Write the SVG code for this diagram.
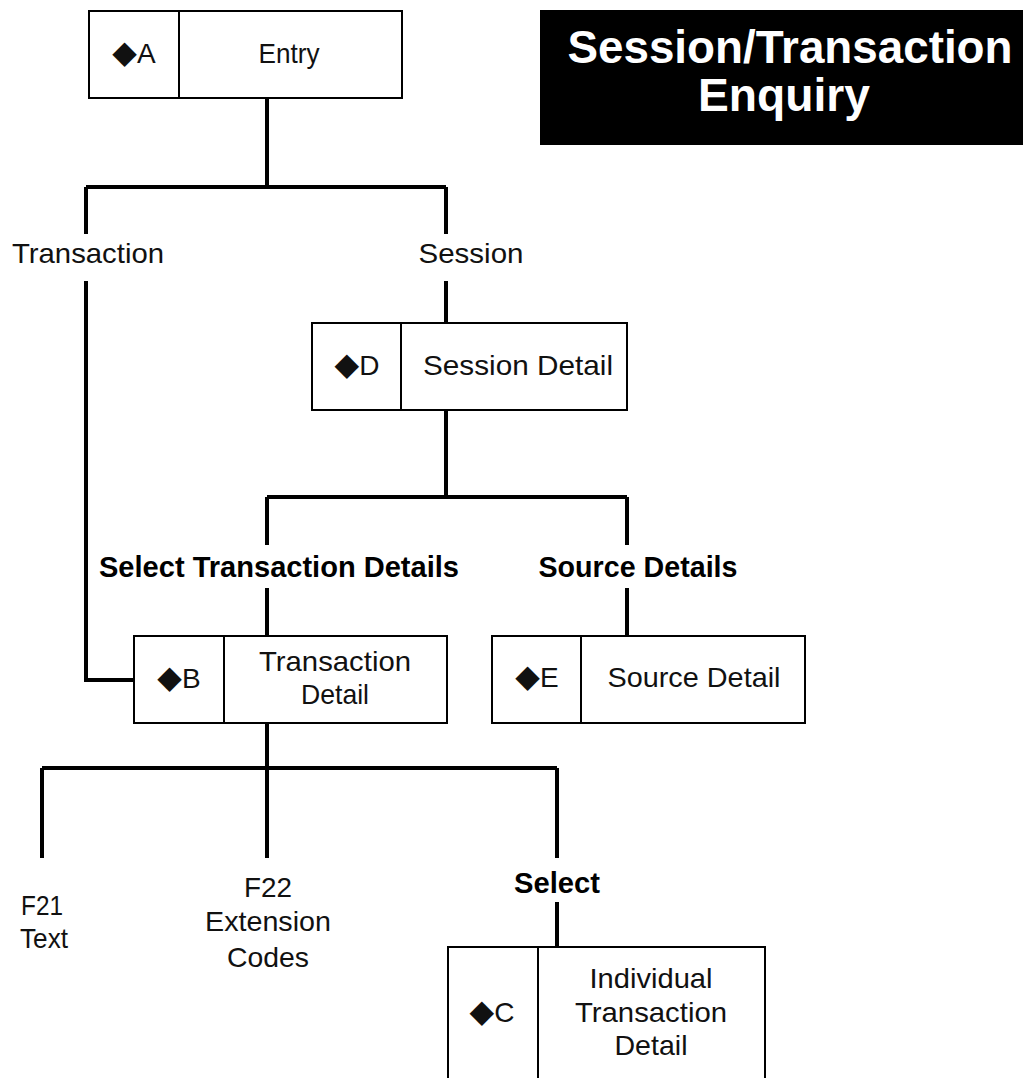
<svg xmlns="http://www.w3.org/2000/svg" width="1025" height="1078" viewBox="0 0 1025 1078">
  <style>
    .box { fill: #ffffff; stroke: #000000; stroke-width: 2; }
    .div { stroke: #000000; stroke-width: 2; }
    .wire { fill: none; stroke: #000000; stroke-width: 4; }
    .t { font-family: "Liberation Sans", Arial, sans-serif; font-size: 28px; fill: #111111; text-anchor: middle; }
    .b { font-family: "Liberation Sans", Arial, sans-serif; font-size: 29px; font-weight: bold; fill: #000000; text-anchor: middle; }
    .dm { font-family: "DejaVu Sans", sans-serif; font-size: 32px; }
    .title { font-family: "Liberation Sans", Arial, sans-serif; font-size: 46px; font-weight: bold; fill: #ffffff; text-anchor: middle; }
  </style>
  <rect width="1025" height="1078" fill="#ffffff"/>

  <!-- connectors -->
  <g id="connectors">
    <path class="wire" d="M267 98 V187 M86 187 H446 M86 187 V234 M446 187 V234"/>
    <path class="wire" d="M86 281 V680 H134"/>
    <path class="wire" d="M446 281 V323"/>
    <path class="wire" d="M446 410 V497 M267 497 H627 M267 497 V545 M627 497 V545"/>
    <path class="wire" d="M267 588 V636 M627 588 V636"/>
    <path class="wire" d="M267 723 V768 M42 768 H557 M42 768 V858 M267 768 V858 M557 768 V858"/>
    <path class="wire" d="M557 902 V947"/>
  </g>

  <!-- connector labels -->
  <g id="labels">
    <text class="t" x="88" y="263" textLength="152" lengthAdjust="spacingAndGlyphs">Transaction</text>
    <text class="t" x="471" y="263" textLength="105" lengthAdjust="spacingAndGlyphs">Session</text>
    <text class="b" x="279" y="577" textLength="360" lengthAdjust="spacingAndGlyphs">Select Transaction Details</text>
    <text class="b" x="638" y="577" textLength="199" lengthAdjust="spacingAndGlyphs">Source Details</text>
    <text class="t" x="42" y="915" textLength="42" lengthAdjust="spacingAndGlyphs">F21</text>
    <text class="t" x="44" y="948" textLength="48" lengthAdjust="spacingAndGlyphs">Text</text>
    <text class="t" x="268" y="897" textLength="48" lengthAdjust="spacingAndGlyphs">F22</text>
    <text class="t" x="268" y="931" textLength="126" lengthAdjust="spacingAndGlyphs">Extension</text>
    <text class="t" x="268" y="967" textLength="82" lengthAdjust="spacingAndGlyphs">Codes</text>
    <text class="b" x="557" y="893" textLength="86" lengthAdjust="spacingAndGlyphs">Select</text>
  </g>

  <!-- title banner -->
  <g id="title">
    <rect x="540" y="10" width="483" height="135" fill="#000000"/>
    <text class="title" x="790" y="63" textLength="445" lengthAdjust="spacingAndGlyphs">Session/Transaction</text>
    <text class="title" x="784" y="111" textLength="172" lengthAdjust="spacingAndGlyphs">Enquiry</text>
  </g>

  <!-- node A -->
  <g id="node-a">
    <rect class="box" x="89" y="11" width="313" height="87"/>
    <line class="div" x1="179" y1="11" x2="179" y2="98"/>
    <text class="t" x="134" y="63"><tspan class="dm">◆</tspan>A</text>
    <text class="t" x="289" y="63" textLength="61" lengthAdjust="spacingAndGlyphs">Entry</text>
  </g>

  <!-- node D -->
  <g id="node-d">
    <rect class="box" x="312" y="323" width="315" height="87"/>
    <line class="div" x1="401" y1="323" x2="401" y2="410"/>
    <text class="t" x="357" y="375"><tspan class="dm">◆</tspan>D</text>
    <text class="t" x="518" y="375" textLength="190" lengthAdjust="spacingAndGlyphs">Session Detail</text>
  </g>

  <!-- node B -->
  <g id="node-b">
    <rect class="box" x="134" y="636" width="313" height="87"/>
    <line class="div" x1="224" y1="636" x2="224" y2="723"/>
    <text class="t" x="179" y="688"><tspan class="dm">◆</tspan>B</text>
    <text class="t" x="335" y="671" textLength="152" lengthAdjust="spacingAndGlyphs">Transaction</text>
    <text class="t" x="335" y="704" textLength="68" lengthAdjust="spacingAndGlyphs">Detail</text>
  </g>

  <!-- node E -->
  <g id="node-e">
    <rect class="box" x="492" y="636" width="313" height="87"/>
    <line class="div" x1="581" y1="636" x2="581" y2="723"/>
    <text class="t" x="537" y="687"><tspan class="dm">◆</tspan>E</text>
    <text class="t" x="694" y="687" textLength="173" lengthAdjust="spacingAndGlyphs">Source Detail</text>
  </g>

  <!-- node C -->
  <g id="node-c">
    <rect class="box" x="448" y="947" width="317" height="140"/>
    <line class="div" x1="538" y1="947" x2="538" y2="1078"/>
    <text class="t" x="492" y="1022"><tspan class="dm">◆</tspan>C</text>
    <text class="t" x="651" y="988" textLength="123" lengthAdjust="spacingAndGlyphs">Individual</text>
    <text class="t" x="651" y="1022" textLength="152" lengthAdjust="spacingAndGlyphs">Transaction</text>
    <text class="t" x="651" y="1055" textLength="73" lengthAdjust="spacingAndGlyphs">Detail</text>
  </g>
</svg>
